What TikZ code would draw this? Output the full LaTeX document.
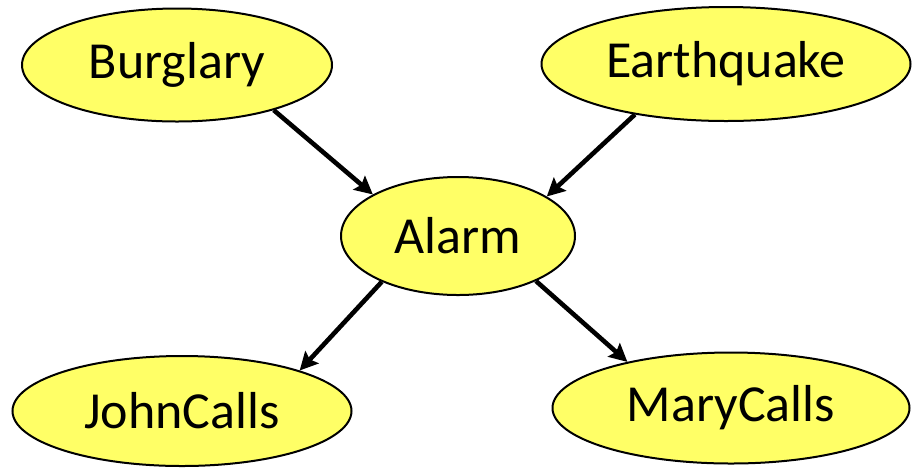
\documentclass[tikz,border=0pt]{standalone}
\usepackage{fontspec}
\setmainfont{Carlito}
\usetikzlibrary{shapes.geometric,arrows.meta}
\definecolor{nodefill}{HTML}{FFFF66}
\begin{document}
\begin{tikzpicture}[x=1pt,y=-1pt,
  varnode/.style={ellipse,draw=black,line width=2pt,fill=nodefill,inner sep=0pt,
    font=\fontsize{52}{62}\selectfont},
  link/.style={line width=4.6pt,-{Stealth[length=18pt,width=18pt,inset=3pt]}}]
\useasboundingbox (0,0) rectangle (912,467);
\node[varnode,minimum width=310pt,minimum height=113pt] (burglary) at (177,65) {Burglary};
\node[varnode,minimum width=369pt,minimum height=114pt] (quake) at (726,64) {Earthquake};
\node[varnode,minimum width=234pt,minimum height=118pt] (alarm) at (458,236) {Alarm};
\node[varnode,minimum width=339pt,minimum height=110pt] (john) at (182,411) {JohnCalls};
\node[varnode,minimum width=357pt,minimum height=111pt] (mary) at (731,408) {MaryCalls};
\draw[link] (burglary.-25) -- (alarm.154);
\draw[link] (quake.-151) -- (alarm.24);
\draw[link] (alarm.-149) -- (john.19);
\draw[link] (alarm.-30) -- (mary.156);
\end{tikzpicture}
\end{document}
